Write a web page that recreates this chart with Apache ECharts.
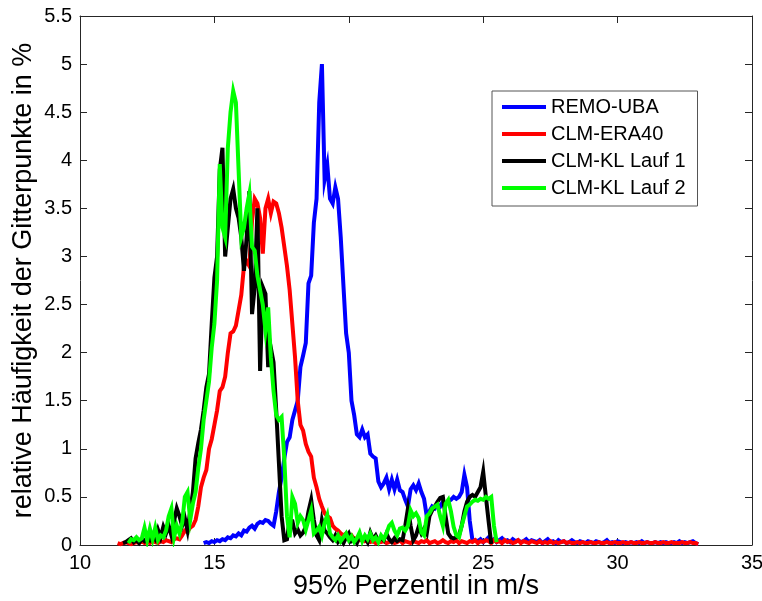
<!DOCTYPE html>
<html>
<head>
<meta charset="utf-8">
<script src="https://cdn.jsdelivr.net/npm/echarts@6/dist/echarts.min.js"></script>
<style>
  html, body { margin: 0; padding: 0; background: #fff; }
  #chart { width: 762px; height: 601px; }
</style>
</head>
<body>
<div id="chart"></div>
<script>
// Histogram of the 95th-percentile wind speed per grid point, bin width 0.1 m/s
const binStep = 0.1;

const seriesNames = ['REMO-UBA', 'CLM-ERA40', 'CLM-KL Lauf 1', 'CLM-KL Lauf 2'];
const seriesColors = ['#0000ff', '#ff0000', '#000000', '#00ff00'];

// REMO-UBA, first bin centre 14.6 m/s
const remoStart = 14.6;
const remoValues = [
  0.02,0.03,0.02,0.04,0.03,0.05,0.04,0.06,0.05,0.08,
  0.07,0.10,0.09,0.12,0.10,0.15,0.14,0.18,0.20,0.17,
  0.22,0.24,0.23,0.26,0.25,0.22,0.20,0.35,0.55,0.70,
  0.90,1.07,1.12,1.30,1.40,1.50,1.85,1.97,2.10,2.72,
  2.80,3.35,3.60,4.60,5.00,3.80,3.95,3.60,3.55,3.72,
  3.60,3.20,2.70,2.20,2.00,1.50,1.35,1.15,1.12,1.20,
  1.12,1.15,0.95,0.92,0.90,0.66,0.60,0.64,0.70,0.58,
  0.68,0.58,0.68,0.57,0.55,0.47,0.40,0.58,0.62,0.57,
  0.64,0.55,0.48,0.30,0.35,0.40,0.38,0.42,0.40,0.45,
  0.42,0.45,0.47,0.50,0.48,0.50,0.55,0.73,0.60,0.25,
  0.05,
  0.05,0.04,0.06,0.03,0.05,0.08,0.04,0.06,0.03,0.05,
  0.07,0.04,0.05,0.03,0.06,0.04,0.05,0.03,0.04,0.06,
  0.03,0.05,0.04,0.03,0.05,0.02,0.04,0.06,0.03,0.04,
  0.02,0.05,0.03,0.04,0.02,0.03,0.05,0.03,0.02,0.04,
  0.03,0.02,0.04,0.03,0.02,0.04,0.03,0.02,0.03,0.05,
  0.02,0.03,0.02,0.04,0.03,0.02,0.03,0.02,0.03,0.02,
  0.03,0.02,0.04,0.02,0.03,0.02,0.02,0.03,0.02,0.03,
  0.02,0.03,0.02,0.02,0.03,0.02,0.04,0.02,0.03,0.02,
  0.03,0.04,0.02,0.01
];

// CLM-ERA40, first bin centre 11.4 m/s
const era40Start = 11.4;
const era40Values = [
  0.02,0.01,0.02,0.03,0.02,0.01,0.02,0.03,0.02,0.04,
  0.02,0.03,0.02,0.04,0.03,0.02,0.04,0.03,0.05,0.04,
  0.03,0.06,0.07,0.06,0.10,0.15,0.14,0.18,0.20,0.26,
  0.40,0.60,0.70,0.78,1.00,1.10,1.25,1.40,1.60,1.64,
  1.75,2.00,2.20,2.22,2.28,2.44,2.60,2.90,2.95,2.90,
  3.37,3.60,3.55,3.40,3.03,3.50,3.60,3.45,3.57,3.55,
  3.45,3.30,3.10,2.90,2.65,2.30,1.95,1.50,1.25,1.19,
  1.05,0.97,0.92,0.70,0.60,0.48,0.40,0.33,0.30,0.28,
  0.20,0.17,0.15,0.12,0.10,0.12,0.08,0.10,0.06,0.07,
  0.05,0.06,
  0.04,0.05,0.03,0.04,0.02,0.05,0.03,0.04,0.02,0.03,
  0.04,0.02,0.03,0.05,0.02,0.04,0.03,0.02,0.04,0.03,
  0.02,0.04,0.03,0.05,0.02,0.03,0.04,0.02,0.03,0.05,
  0.03,0.02,0.04,0.03,0.05,0.02,0.04,0.03,0.02,0.04,
  0.03,0.05,0.02,0.04,0.03,0.05,0.04,0.02,0.05,0.03,
  0.04,0.02,0.05,0.03,0.04,0.02,0.03,0.05,0.02,0.04,
  0.03,0.02,0.04,0.03,0.02,0.04,0.02,0.03,0.02,0.04,
  0.02,0.03,0.02,0.03,0.04,0.02,0.03,0.02,0.02,0.03,
  0.02,0.03,0.02,0.02,0.03,0.02,0.02,0.03,0.02,0.02,
  0.03,0.02,0.02,0.03,0.02,0.02,0.03,0.02,0.02,0.03,
  0.02,0.02,0.03,0.02,0.02,0.03,0.02,0.02,0.03,0.02,
  0.02,0.03,0.02,0.02,0.03,0.02,0.02,0.02,0.03,0.02,
  0.02,0.03,0.02,0.02,0.01
];

// CLM-KL Lauf 1, first bin centre 11.6 m/s
const lauf1Start = 11.6;
const lauf1Values = [
  0.02,0.03,0.05,0.07,0.03,0.05,0.02,0.06,0.04,0.08,
  0.05,0.10,0.06,0.16,0.08,0.19,0.12,0.20,0.10,0.25,
  0.38,0.30,0.20,0.28,0.15,0.35,0.55,0.90,1.06,1.20,
  1.40,1.64,1.78,2.30,2.78,3.00,3.90,4.13,3.00,3.30,
  3.60,3.70,3.50,3.40,3.20,2.85,3.20,3.68,2.40,2.68,
  3.50,1.81,2.68,2.61,1.85,2.05,1.90,1.40,0.85,0.30,
  0.05,0.06,0.26,0.25,0.12,0.16,0.10,0.13,0.19,0.35,
  0.47,0.26,0.10,0.05,0.26,0.15,0.12,0.08,0.05,0.10,
  0.03,0.06,0.02,0.08,0.12,0.04,0.06,0.02,0.10,0.05,
  0.08,0.03,0.13,0.06,0.10,0.04,0.08,0.05,0.12,0.06,
  0.03,0.07,0.04,0.06,0.05,0.20,0.38,0.20,0.05,0.10,
  0.19,0.12,0.17,0.12,0.30,0.36,0.40,0.45,0.49,0.50,
  0.30,0.12,0.08,0.07,0.08,0.10,0.20,0.35,0.45,0.50,
  0.52,0.50,0.55,0.60,0.76,0.50,0.25,0.01
];

// CLM-KL Lauf 2, first bin centre 11.8 m/s
const lauf2Start = 11.8;
const lauf2Values = [
  0.02,0.06,0.05,0.08,0.05,0.07,0.18,0.05,0.17,0.06,
  0.18,0.05,0.10,0.08,0.15,0.30,0.38,0.08,0.20,0.12,
  0.23,0.50,0.55,0.26,0.43,0.55,0.80,1.00,1.30,1.50,
  1.70,2.05,2.30,2.75,3.96,3.30,3.20,4.13,4.50,4.72,
  4.60,3.90,3.20,3.30,3.50,3.65,3.10,3.06,2.80,2.65,
  2.50,2.23,2.47,1.95,1.60,1.35,1.30,1.33,0.90,0.30,
  0.08,0.50,0.43,0.23,0.30,0.26,0.16,0.26,0.36,0.12,
  0.15,0.19,0.10,0.23,0.31,0.12,0.08,0.05,0.10,0.04,
  0.08,0.12,0.05,0.09,0.03,0.07,0.13,0.04,0.10,0.06,
  0.12,0.05,0.08,0.03,0.10,0.06,0.12,0.20,0.23,0.15,
  0.10,0.17,0.18,0.15,0.20,0.36,0.30,0.33,0.28,0.13,
  0.10,0.30,0.33,0.38,0.40,0.42,0.30,0.20,0.43,0.47,
  0.35,0.19,0.10,0.08,0.20,0.30,0.40,0.42,0.45,0.47,
  0.46,0.48,0.47,0.50,0.48,0.50,0.20,0.03
];

// Axis ticks
const xTicks = { min: 10, max: 35, interval: 5 };
const yTicks = { min: 0, max: 5.5, interval: 0.5 };

function toPairs(start, values) {
  return values.map((v, i) => [Math.round((start + i * binStep) * 100) / 100, v]);
}

const seriesData = [
  toPairs(remoStart, remoValues),
  toPairs(era40Start, era40Values),
  toPairs(lauf1Start, lauf1Values),
  toPairs(lauf2Start, lauf2Values)
];

const FONT = 'Liberation Sans, Arial, Helvetica, sans-serif';
const axisColor = '#262626';

const chart = echarts.init(document.getElementById('chart'), null, { renderer: 'canvas' });

const frameAxis = (extra) => Object.assign({
  type: 'value',
  axisLine: { show: true, onZero: false, lineStyle: { color: axisColor, width: 1 } },
  axisTick: { show: true, inside: true, length: 7, lineStyle: { color: axisColor, width: 1 } },
  splitLine: { show: false }
}, extra);

chart.setOption({
  animation: false,
  backgroundColor: '#ffffff',
  grid: { left: 80, right: 10, top: 16, bottom: 56, containLabel: false, outerBoundsMode: 'none' },
  legend: {
    orient: 'vertical',
    left: 492,
    top: 91,
    data: seriesNames,
    icon: 'rect',
    itemWidth: 44,
    itemHeight: 4,
    itemGap: 7,
    padding: [6, 12, 8, 10],
    borderColor: '#555555',
    borderWidth: 1,
    backgroundColor: '#ffffff',
    textStyle: { fontFamily: FONT, fontSize: 20, color: '#000', lineHeight: 20 }
  },
  xAxis: [
    frameAxis({
      position: 'bottom',
      min: xTicks.min, max: xTicks.max, interval: xTicks.interval,
      name: '95% Perzentil in m/s',
      nameLocation: 'middle',
      nameMoveOverlap: false,
      nameGap: 28,
      nameTextStyle: { fontFamily: FONT, fontSize: 27, color: '#000' },
      axisLabel: { fontFamily: FONT, fontSize: 20, color: '#000', margin: 8 }
    }),
    frameAxis({
      position: 'top',
      min: xTicks.min, max: xTicks.max, interval: xTicks.interval,
      axisLabel: { show: false }
    })
  ],
  yAxis: [
    frameAxis({
      position: 'left',
      min: yTicks.min, max: yTicks.max, interval: yTicks.interval,
      name: 'relative Häufigkeit der Gitterpunkte in %',
      nameLocation: 'middle',
      nameMoveOverlap: false,
      nameGap: 43,
      nameRotate: 90,
      nameTextStyle: { fontFamily: FONT, fontSize: 27, color: '#000' },
      axisLabel: { fontFamily: FONT, fontSize: 20, color: '#000', margin: 8 }
    }),
    frameAxis({
      position: 'right',
      min: yTicks.min, max: yTicks.max, interval: yTicks.interval,
      axisLabel: { show: false }
    })
  ],
  series: seriesNames.map((name, i) => ({
    name: name,
    type: 'line',
    xAxisIndex: 0,
    yAxisIndex: 0,
    data: seriesData[i],
    showSymbol: false,
    symbol: 'none',
    color: seriesColors[i],
    lineStyle: { color: seriesColors[i], width: 4, join: 'miter' },
    z: 2 + i
  }))
});
</script>
</body>
</html>
